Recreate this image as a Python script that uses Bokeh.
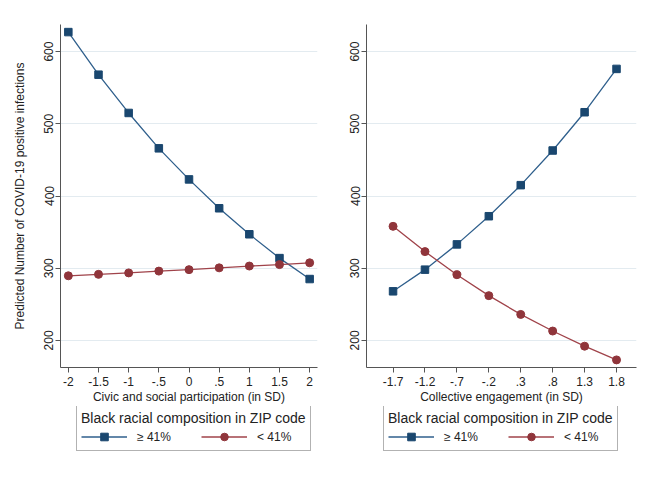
from bokeh.plotting import figure
from bokeh.models import Legend, LegendItem, FixedTicker, Range1d
from bokeh.layouts import row, column
from bokeh.embed import file_html
from bokeh.resources import INLINE

# ---- data ----
left_x = [-2, -1.5, -1, -0.5, 0, 0.5, 1, 1.5, 2]
left_x_labels = ["-2", "-1.5", "-1", "-.5", "0", ".5", "1", "1.5", "2"]
left_high = [627, 568, 515, 466, 423, 383, 347, 314, 285]
left_low = [289.5, 291.5, 293.5, 296, 298, 300.5, 303, 305, 307.5]

right_x = [-1.7, -1.2, -0.7, -0.2, 0.3, 0.8, 1.3, 1.8]
right_x_labels = ["-1.7", "-1.2", "-.7", "-.2", ".3", ".8", "1.3", "1.8"]
right_high = [268, 298, 333, 372, 415, 463, 516, 576]
right_low = [358, 323, 291, 262, 236, 213, 192, 173]

y_ticks = [200, 300, 400, 500, 600]
series_labels = ["\u2265 41%", "< 41%"]
legend_title = "Black racial composition in ZIP code"
left_xtitle = "Civic and social participation (in SD)"
right_xtitle = "Collective engagement (in SD)"
ytitle = "Predicted Number of COVID-19 positive infections"

FONT = "Liberation Sans"
BLUE = "#1a476f"
BLUE_LINE = "#2f5f8c"
RED = "#90353b"
RED_LINE = "#a0434a"
GRID = "#e3ebf0"
AXIS = "#555555"
TEXT = "#222222"


def add_series(fig, xs, hi, lo):
    r1 = fig.line(xs, hi, line_color=BLUE_LINE, line_width=1.3)
    s1 = fig.scatter(xs, hi, marker="square", size=7.5, fill_color=BLUE, line_color=BLUE)
    r2 = fig.line(xs, lo, line_color=RED_LINE, line_width=1.3)
    s2 = fig.scatter(xs, lo, marker="circle", size=8, fill_color=RED, line_color=RED)
    return r1, s1, r2, s2


def make(xs, xlabels, hi, lo, xtitle, ytitle_text, xr, fw, mbl, mbr, leg_x):
    p = figure(output_backend="svg", toolbar_location=None,
               frame_width=fw, frame_height=343,
               x_range=Range1d(*xr), y_range=Range1d(162.5, 637.5),
               min_border_left=mbl, min_border_right=mbr,
               min_border_top=24, min_border_bottom=38,
               background_fill_color="white", border_fill_color="white",
               outline_line_color=None)

    # axes
    p.xaxis.ticker = FixedTicker(ticks=xs)
    p.xaxis.major_label_overrides = {float(v): lab for v, lab in zip(xs, xlabels)}
    p.yaxis.ticker = FixedTicker(ticks=y_ticks)
    p.yaxis.major_label_orientation = "vertical"
    for ax in (p.xaxis, p.yaxis):
        ax.axis_line_color = AXIS
        ax.major_tick_line_color = AXIS
        ax.major_tick_out = 5
        ax.major_tick_in = 0
        ax.minor_tick_line_color = None
        ax.major_label_text_font = FONT
        ax.major_label_text_font_size = "12px"
        ax.major_label_text_color = TEXT
        ax.axis_label_text_font = FONT
        ax.axis_label_text_font_size = "12px"
        ax.axis_label_text_font_style = "normal"
        ax.axis_label_text_color = TEXT
    p.xaxis.major_label_standoff = 4
    p.yaxis.major_label_standoff = 2
    p.xaxis.axis_label = xtitle
    p.xaxis.axis_label_standoff = 1
    if ytitle_text:
        p.yaxis.axis_label = ytitle_text
        p.yaxis.axis_label_standoff = 15

    p.xgrid.visible = False
    p.ygrid.grid_line_color = GRID
    p.ygrid.grid_line_width = 1

    add_series(p, xs, hi, lo)

    # legend strip below the panel (its frame is aligned with the panel frame);
    # the series are drawn out of view here, only to feed the legend glyphs
    total_w = mbl + fw + mbr
    lg = figure(output_backend="svg", toolbar_location=None,
                width=total_w, height=72,
                x_range=Range1d(10, 11), y_range=Range1d(10, 11),
                x_axis_location=None, y_axis_location=None,
                min_border=0, outline_line_color=None,
                background_fill_color="white", border_fill_color="white")
    lg.grid.visible = False
    k1, m1, k2, m2 = add_series(lg, xs, hi, lo)
    legend = Legend(
        items=[LegendItem(label=series_labels[0], renderers=[k1, m1]),
               LegendItem(label=series_labels[1], renderers=[k2, m2])],
        title=legend_title, orientation="horizontal", location=(leg_x, 27),
        title_text_font=FONT, title_text_font_size="14px",
        title_text_font_style="normal", title_text_color=TEXT,
        label_text_font=FONT, label_text_font_size="12px", label_text_color=TEXT,
        glyph_width=46, glyph_height=19, label_height=14,
        label_standoff=10, spacing=30, padding=4, margin=0, title_standoff=1,
        border_line_color="#666666", border_line_width=1,
        background_fill_color="white", background_fill_alpha=1,
    )
    lg.add_layout(legend, "center")
    return column(p, lg, spacing=0)


c1 = make(left_x, left_x_labels, left_high, left_low, left_xtitle, ytitle,
          (-2.13, 2.13), 257, 60, 13, 16)
c2 = make(right_x, right_x_labels, right_high, right_low, right_xtitle, None,
          (-2.116, 2.113), 270, 36, 12, 17)

layout = row(c1, c2, spacing=0)
open("out.html", "w").write(file_html(layout, INLINE))
